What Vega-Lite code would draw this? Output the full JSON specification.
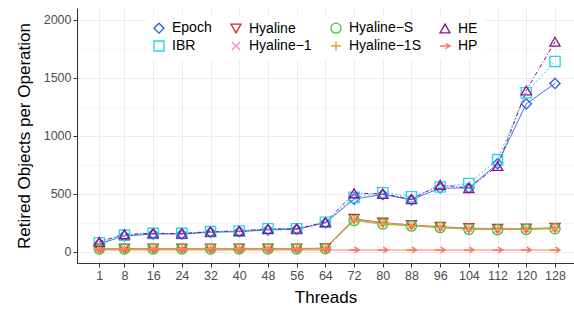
{
  "$schema": "https://vega.github.io/schema/vega-lite/v6.json",
  "width": 497,
  "height": 255,
  "autosize": {"type": "none"},
  "padding": {"left": 77, "top": 8, "right": 0, "bottom": 51},
  "background": "white",
  "config": {
    "view": {"stroke": null},
    "font": "Liberation Sans",
    "axis": {
      "domainColor": "#333333",
      "domainWidth": 1.1,
      "tickColor": "#333333",
      "tickSize": 4,
      "tickWidth": 1,
      "labelColor": "#4D4D4D",
      "labelFontSize": 12.5,
      "labelPadding": 2,
      "gridColor": "#EBEBEB",
      "gridWidth": 1,
      "titleFontSize": 17,
      "titleFontWeight": "normal",
      "titleColor": "#000000"
    }
  },
  "data": {"values": [
    {"t":1,"s":"Epoch","v":70},{"t":8,"s":"Epoch","v":138},{"t":16,"s":"Epoch","v":155},{"t":24,"s":"Epoch","v":155},{"t":32,"s":"Epoch","v":170},{"t":40,"s":"Epoch","v":175},{"t":48,"s":"Epoch","v":190},{"t":56,"s":"Epoch","v":195},{"t":64,"s":"Epoch","v":250},{"t":72,"s":"Epoch","v":455},{"t":80,"s":"Epoch","v":495},{"t":88,"s":"Epoch","v":450},{"t":96,"s":"Epoch","v":550},{"t":104,"s":"Epoch","v":550},{"t":112,"s":"Epoch","v":760},{"t":120,"s":"Epoch","v":1275},{"t":128,"s":"Epoch","v":1450},
    {"t":1,"s":"IBR","v":80},{"t":8,"s":"IBR","v":145},{"t":16,"s":"IBR","v":160},{"t":24,"s":"IBR","v":160},{"t":32,"s":"IBR","v":175},{"t":40,"s":"IBR","v":180},{"t":48,"s":"IBR","v":200},{"t":56,"s":"IBR","v":200},{"t":64,"s":"IBR","v":255},{"t":72,"s":"IBR","v":470},{"t":80,"s":"IBR","v":510},{"t":88,"s":"IBR","v":475},{"t":96,"s":"IBR","v":560},{"t":104,"s":"IBR","v":590},{"t":112,"s":"IBR","v":795},{"t":120,"s":"IBR","v":1370},{"t":128,"s":"IBR","v":1640},
    {"t":1,"s":"Hyaline","v":30},{"t":8,"s":"Hyaline","v":30},{"t":16,"s":"Hyaline","v":30},{"t":24,"s":"Hyaline","v":30},{"t":32,"s":"Hyaline","v":30},{"t":40,"s":"Hyaline","v":30},{"t":48,"s":"Hyaline","v":30},{"t":56,"s":"Hyaline","v":30},{"t":64,"s":"Hyaline","v":32},{"t":72,"s":"Hyaline","v":285},{"t":80,"s":"Hyaline","v":252},{"t":88,"s":"Hyaline","v":232},{"t":96,"s":"Hyaline","v":217},{"t":104,"s":"Hyaline","v":205},{"t":112,"s":"Hyaline","v":200},{"t":120,"s":"Hyaline","v":202},{"t":128,"s":"Hyaline","v":207},
    {"t":1,"s":"Hyaline−1","v":28},{"t":8,"s":"Hyaline−1","v":28},{"t":16,"s":"Hyaline−1","v":28},{"t":24,"s":"Hyaline−1","v":28},{"t":32,"s":"Hyaline−1","v":28},{"t":40,"s":"Hyaline−1","v":28},{"t":48,"s":"Hyaline−1","v":28},{"t":56,"s":"Hyaline−1","v":28},{"t":64,"s":"Hyaline−1","v":30},{"t":72,"s":"Hyaline−1","v":280},{"t":80,"s":"Hyaline−1","v":248},{"t":88,"s":"Hyaline−1","v":228},{"t":96,"s":"Hyaline−1","v":213},{"t":104,"s":"Hyaline−1","v":200},{"t":112,"s":"Hyaline−1","v":197},{"t":120,"s":"Hyaline−1","v":198},{"t":128,"s":"Hyaline−1","v":205},
    {"t":1,"s":"Hyaline−S","v":26},{"t":8,"s":"Hyaline−S","v":26},{"t":16,"s":"Hyaline−S","v":26},{"t":24,"s":"Hyaline−S","v":26},{"t":32,"s":"Hyaline−S","v":26},{"t":40,"s":"Hyaline−S","v":26},{"t":48,"s":"Hyaline−S","v":26},{"t":56,"s":"Hyaline−S","v":26},{"t":64,"s":"Hyaline−S","v":28},{"t":72,"s":"Hyaline−S","v":270},{"t":80,"s":"Hyaline−S","v":240},{"t":88,"s":"Hyaline−S","v":224},{"t":96,"s":"Hyaline−S","v":210},{"t":104,"s":"Hyaline−S","v":195},{"t":112,"s":"Hyaline−S","v":192},{"t":120,"s":"Hyaline−S","v":194},{"t":128,"s":"Hyaline−S","v":200},
    {"t":1,"s":"Hyaline−1S","v":28},{"t":8,"s":"Hyaline−1S","v":28},{"t":16,"s":"Hyaline−1S","v":28},{"t":24,"s":"Hyaline−1S","v":28},{"t":32,"s":"Hyaline−1S","v":28},{"t":40,"s":"Hyaline−1S","v":28},{"t":48,"s":"Hyaline−1S","v":28},{"t":56,"s":"Hyaline−1S","v":28},{"t":64,"s":"Hyaline−1S","v":30},{"t":72,"s":"Hyaline−1S","v":275},{"t":80,"s":"Hyaline−1S","v":245},{"t":88,"s":"Hyaline−1S","v":226},{"t":96,"s":"Hyaline−1S","v":212},{"t":104,"s":"Hyaline−1S","v":198},{"t":112,"s":"Hyaline−1S","v":195},{"t":120,"s":"Hyaline−1S","v":197},{"t":128,"s":"Hyaline−1S","v":204},
    {"t":1,"s":"HE","v":88},{"t":8,"s":"HE","v":152},{"t":16,"s":"HE","v":160},{"t":24,"s":"HE","v":158},{"t":32,"s":"HE","v":175},{"t":40,"s":"HE","v":180},{"t":48,"s":"HE","v":198},{"t":56,"s":"HE","v":200},{"t":64,"s":"HE","v":256},{"t":72,"s":"HE","v":505},{"t":80,"s":"HE","v":500},{"t":88,"s":"HE","v":455},{"t":96,"s":"HE","v":578},{"t":104,"s":"HE","v":550},{"t":112,"s":"HE","v":740},{"t":120,"s":"HE","v":1390},{"t":128,"s":"HE","v":1810},
    {"t":1,"s":"HP","v":17},{"t":8,"s":"HP","v":17},{"t":16,"s":"HP","v":17},{"t":24,"s":"HP","v":17},{"t":32,"s":"HP","v":17},{"t":40,"s":"HP","v":17},{"t":48,"s":"HP","v":17},{"t":56,"s":"HP","v":17},{"t":64,"s":"HP","v":17},{"t":72,"s":"HP","v":17},{"t":80,"s":"HP","v":17},{"t":88,"s":"HP","v":17},{"t":96,"s":"HP","v":17},{"t":104,"s":"HP","v":17},{"t":112,"s":"HP","v":17},{"t":120,"s":"HP","v":17},{"t":128,"s":"HP","v":17}
  ]},
  "encoding": {
    "x": {
      "field": "t", "type": "quantitative",
      "scale": {"domain": [-5.22, 133.3], "nice": false, "zero": false},
      "axis": {"values": [1,8,16,24,32,40,48,56,64,72,80,88,96,104,112,120,128], "title": "Threads", "titlePadding": 8, "labelFlush": false}
    },
    "y": {
      "field": "v", "type": "quantitative",
      "scale": {"domain": [-95, 2100], "nice": false, "zero": false},
      "axis": {
        "values": [0,250,500,750,1000,1250,1500,1750,2000],
        "title": "Retired Objects per Operation",
        "titlePadding": 10,
        "format": "d",
        "labelExpr": "datum.value % 500 === 0 ? datum.label : ''",
        "gridWidth": {"condition": {"test": "datum.value % 500 === 0", "value": 1}, "value": 0.5},
        "tickOpacity": {"condition": {"test": "datum.value % 500 === 0", "value": 1}, "value": 0}
      }
    },
    "color": {"field": "s", "type": "nominal", "title": null,
      "scale": {"domain": ["Epoch","Hyaline","Hyaline−S","HE","IBR","Hyaline−1","Hyaline−1S","HP"],
                "range": ["#2A5BEA","#D42A2A","#33CC33","#8B108B","#22D6E6","#FF80C8","#E8A020","#FF6F5E"]},
      "legend": {"orient": "none", "legendX": 69, "legendY": 7, "direction": "horizontal", "columns": 4,
        "fillColor": "white", "padding": 6, "labelFontSize": 14, "labelColor": "#000000", "symbolSize": 100,
        "symbolStrokeWidth": 1.3, "labelOffset": 6, "columnPadding": 16, "rowPadding": 2, "gridAlign": "each", "symbolOpacity": 1}}
  },
  "layer": [
    {
      "mark": {"type": "line", "strokeWidth": 1, "clip": true},
      "encoding": {
        "strokeDash": {
          "condition": [
            {"test": "datum.s === 'IBR'", "value": [2, 2]},
            {"test": "datum.s === 'HE'", "value": [4, 2, 1, 2]}
          ],
          "value": [1, 0]
        }
      }
    },
    {
      "mark": {"type": "point", "filled": false, "size": 105, "strokeWidth": 1.3, "opacity": 1, "clip": true},
      "encoding": {
        "shape": {"field": "s", "type": "nominal", "title": null,
          "scale": {"domain": ["Epoch","Hyaline","Hyaline−S","HE","IBR","Hyaline−1","Hyaline−1S","HP"],
                    "range": ["diamond","triangle-down","circle","triangle-up","square","M-0.8,-0.8L0.8,0.8M-0.8,0.8L0.8,-0.8","M-1,0L1,0M0,-1L0,1","M-1,0L1,0M0.1,-0.55L1,0L0.1,0.55"]}}
      }
    }
  ]
}
